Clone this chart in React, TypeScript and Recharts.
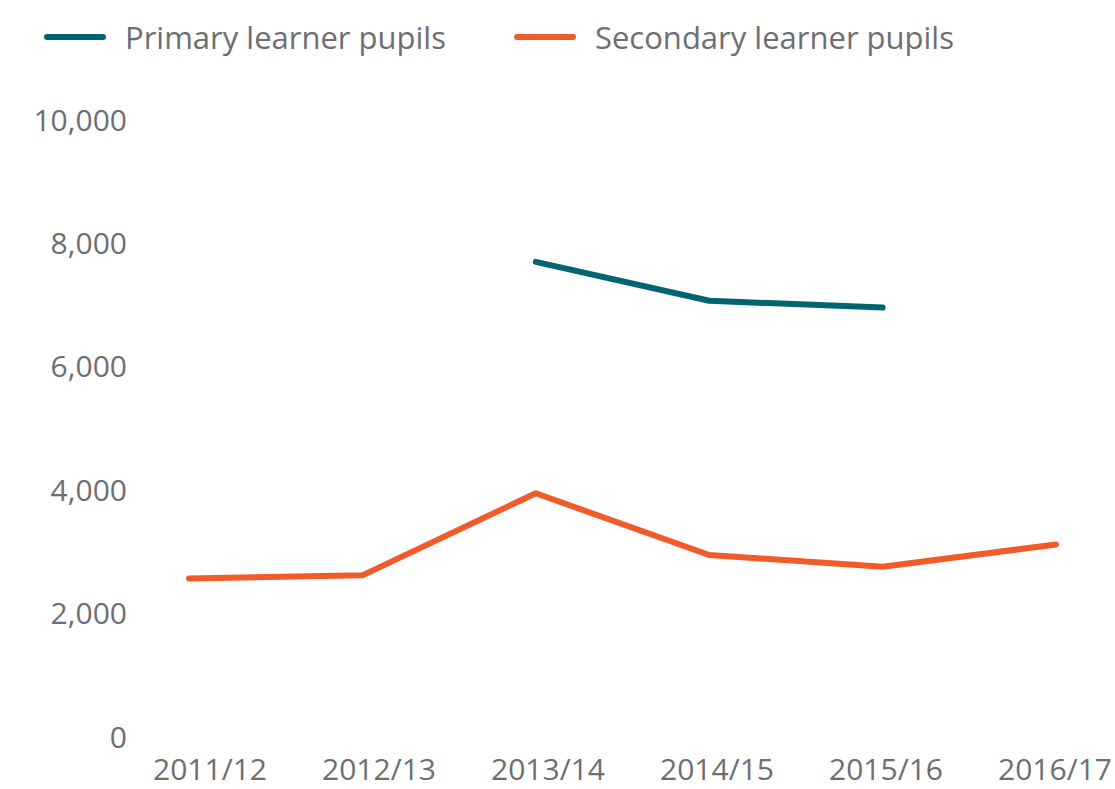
import React from "react";
import { LineChart, Line, XAxis, YAxis } from "recharts";

const categories = ["2011/12", "2012/13", "2013/14", "2014/15", "2015/16", "2016/17"];
const primaryValues: (number | null)[] = [null, null, 7700, 7070, 6960, null];
const secondaryValues: number[] = [2570, 2620, 3950, 2950, 2760, 3120];
const yTicks = [0, 2000, 4000, 6000, 8000, 10000];

const PRIMARY_COLOR = "#00656f";
const SECONDARY_COLOR = "#f15a29";
const TEXT_COLOR = "#6d6e71";
const FONT = "'Open Sans', sans-serif";

const data = categories.map((c, i) => ({
  category: c,
  primary: primaryValues[i],
  secondary: secondaryValues[i],
}));

const legendItems = [
  { label: "Primary learner pupils", color: PRIMARY_COLOR },
  { label: "Secondary learner pupils", color: SECONDARY_COLOR },
];

const CustomLegend = () => (
  <div
    style={{
      position: "absolute",
      left: 44,
      top: 14,
      display: "flex",
      alignItems: "center",
      height: 46,
    }}
  >
    {legendItems.map((it, i) => (
      <div
        key={it.label}
        style={{ display: "flex", alignItems: "center", marginRight: i === 0 ? 68 : 0 }}
      >
        <div
          style={{
            width: 62,
            height: 6,
            borderRadius: 3,
            background: it.color,
            marginRight: 19,
          }}
        />
        <span style={{ fontFamily: FONT, fontSize: 31, color: TEXT_COLOR, whiteSpace: "nowrap", lineHeight: "46px" }}>
          {it.label}
        </span>
      </div>
    ))}
  </div>
);

const fmt = (v: number) => v.toLocaleString("en-US");

export default function App() {
  return (
    <div style={{ position: "absolute", left: 0, top: 0, width: 1115, height: 789, background: "#fff" }}>
      <LineChart
        width={1115}
        height={789}
        data={data}
        margin={{ top: 120, right: 10, bottom: 12, left: 0 }}
      >
        <XAxis
          xAxisId="main"
          dataKey="category"
          hide
          padding={{ left: 54, right: 49 }}
        />
        <XAxis
          xAxisId="labels"
          dataKey="category"
          axisLine={false}
          tickLine={false}
          tickMargin={16}
          height={40}
          interval={0}
          padding={{ left: 75, right: 50 }}
          tick={{ fill: TEXT_COLOR, fontSize: 30, fontFamily: FONT }}
        />
        <YAxis
          width={135}
          domain={[0, 10000]}
          ticks={yTicks}
          axisLine={false}
          tickLine={false}
          tickFormatter={fmt}
          tick={{ fill: TEXT_COLOR, fontSize: 30, fontFamily: FONT }}
        />
        <Line
          xAxisId="main"
          type="linear"
          dataKey="primary"
          stroke={PRIMARY_COLOR}
          strokeWidth={6}
          strokeLinecap="round"
          strokeLinejoin="round"
          dot={false}
          activeDot={false}
          isAnimationActive={false}
        />
        <Line
          xAxisId="main"
          type="linear"
          dataKey="secondary"
          stroke={SECONDARY_COLOR}
          strokeWidth={6}
          strokeLinecap="round"
          strokeLinejoin="round"
          dot={false}
          activeDot={false}
          isAnimationActive={false}
        />
      </LineChart>
      <CustomLegend />
    </div>
  );
}
